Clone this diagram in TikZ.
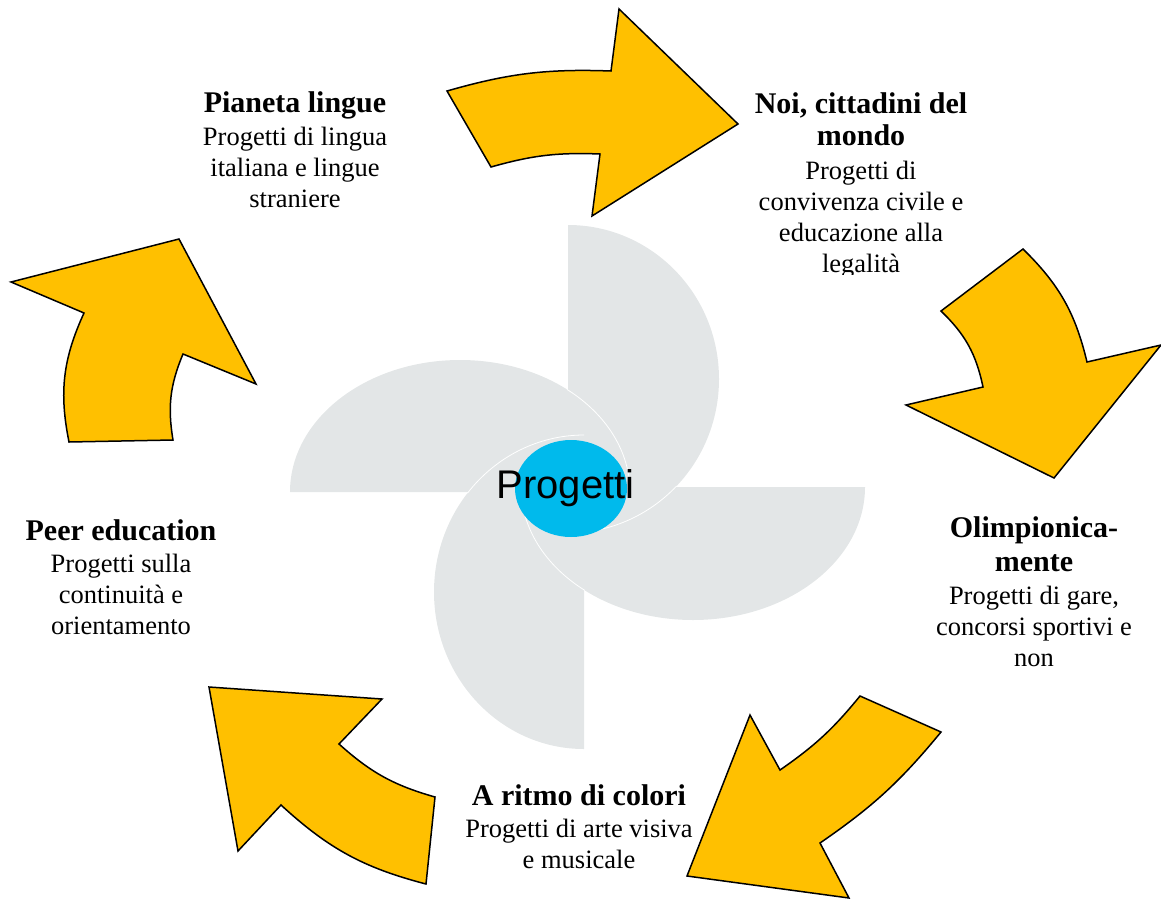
\documentclass[tikz,border=0pt]{standalone}
\usepackage{fontspec}
\setmainfont{Liberation Serif}
\newfontfamily\hubfont{Liberation Sans}
\usepackage{tikz}
\definecolor{arrowgold}{RGB}{255,192,0}
\definecolor{bladegray}{RGB}{227,230,231}
\definecolor{hubblue}{RGB}{0,186,236}
\tikzstyle{bigarrow} = [fill=arrowgold, draw=black, line width=1.5pt,
    line join=miter]
\tikzstyle{blade} = [fill=bladegray]
\tikzstyle{seam} = [draw=white, line width=0.8pt]
\tikzstyle{caption} = [align=center, inner sep=0pt, anchor=north,
    font=\fontsize{26.5}{31}\selectfont]
\newcommand{\head}[1]{{\fontsize{30}{31}\selectfont\bfseries #1}}

\begin{document}
\begin{tikzpicture}[x=1pt,y=-1pt]
    \useasboundingbox (0,0) rectangle (1161,899);
    %pinwheel: centre/x radius/y radius/start angle
    \foreach \c/\rx/\ry/\s in {{(568,379)/151/154/-90}, {(693,487)/172/133/0},
        {(584,592)/150/157/90}, {(460,492)/170/132/180}}
    {\fill[blade] \c ++(xyz polar cs:angle=\s,x radius=\rx,y radius=\ry)
        arc[start angle=\s, delta angle=180, x radius=\rx, y radius=\ry] -- cycle;}
    %white seams where one blade lies on the next
    \foreach \c/\rx/\ry/\a/\e in {{(460,492)/170/132/309/360}, {(584,592)/150/157/219/270},
        {(693,487)/172/133/129/180}, {(568,379)/151/154/44/90}}
    {\draw[seam] \c ++(xyz polar cs:angle=\a,x radius=\rx,y radius=\ry)
        arc[start angle=\a, end angle=\e, x radius=\rx, y radius=\ry];}
    %hub
    \fill[hubblue] (571,488.5) ellipse [x radius=56, y radius=48.5];
    \node[font=\hubfont\fontsize{40}{40}\selectfont, anchor=base, inner sep=0pt]
        (progetti) at (565.5,498) {Progetti};
    %curved arrows: outer tail/outer notch/outer barb/tip/inner barb/inner notch/inner tail
    \foreach \pa/\pb/\pc/\pd/\pe/\pf/\pg/\bo/\bi in {
        {(447,91)/(611,71)/(619,9)/(738,124)/(592,216)/(600,154)/(491,167)/9/9},
        {(1023,249)/(1087,362)/(1161,345)/(1054,478)/(906,405)/(983,387)/(941,311)/16/17},
        {(941,732)/(820,843)/(849,898)/(687,876)/(750,715)/(780,770)/(860,696)/8/8},
        {(426,884)/(281,805)/(238,851)/(209,687)/(382,699)/(339,744)/(435,797)/14/13},
        {(69,442)/(84,313)/(11,282)/(179,239)/(256,384)/(183,354)/(173,440)/18/16}}
    {\edef\arrowpath{\pa to[bend left=\bo] \pb -- \pc -- \pd -- \pe -- \pf
        to[bend right=\bi] \pg -- cycle}
    \draw[bigarrow] \arrowpath;}
    %captions
    \node[caption] (pianeta) at (295,91) {\head{Pianeta lingue}\\[2pt]
        Progetti di lingua\\italiana e lingue\\straniere};
    \begin{scope}
    \clip (700,80) rectangle (1020,274);   %text box cuts the last line
    \node[caption] (cittadini) at (861,92) {\head{Noi, cittadini del}\\[1pt]
        \head{mondo}\\[3pt] Progetti di\\convivenza civile e\\educazione alla\\legalità};
    \end{scope}
    \node[caption] (olimpionica) at (1034,516) {\head{Olimpionica-}\\[3pt]
        \head{mente}\\[2pt] Progetti di gare,\\concorsi sportivi e\\non};
    \node[caption] (ritmo) at (579,784) {\head{A ritmo di colori}\\[1pt]
        Progetti di arte visiva\\e musicale};
    \node[caption] (peer) at (121,519) {\head{Peer education}\\[1pt]
        Progetti sulla\\continuità e\\orientamento};
\end{tikzpicture}
\end{document}
